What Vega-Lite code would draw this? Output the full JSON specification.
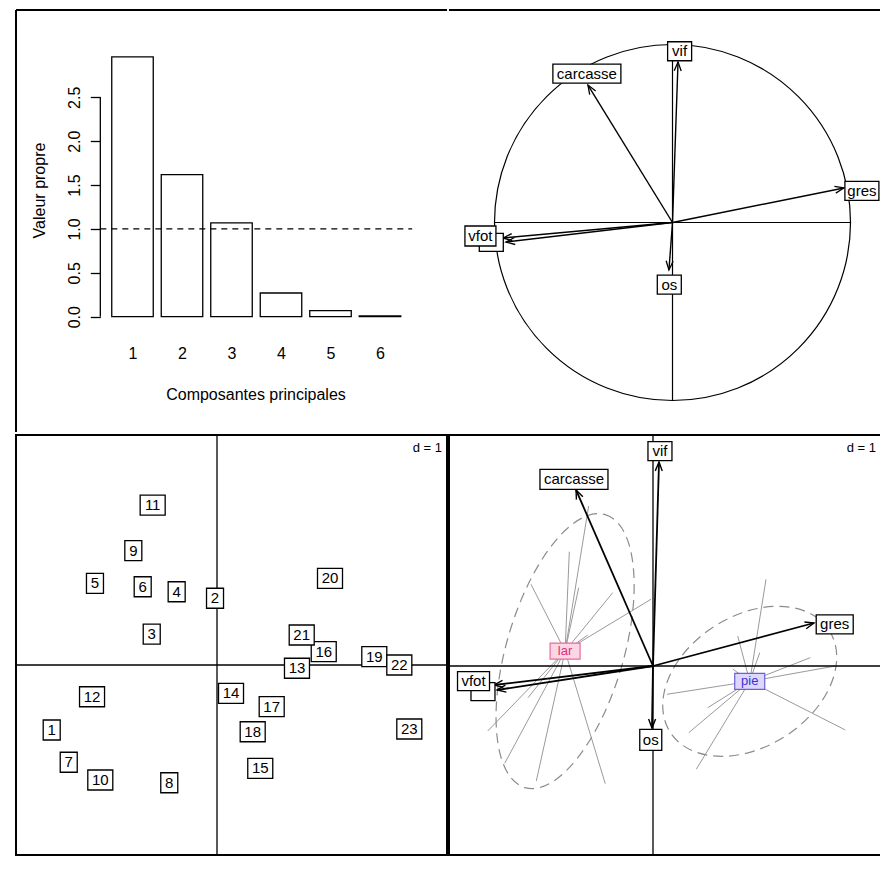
{
  "$schema": "https://vega.github.io/schema/vega-lite/v6.json",
  "background": "white",
  "padding": {"left": 14, "top": 9, "right": 0, "bottom": 0},
  "columns": 2,
  "spacing": {"row": 3, "column": 2},
  "bounds": "flush",
  "datasets": {
    "eig": [
      {"comp": 1, "valeur": 2.96},
      {"comp": 2, "valeur": 1.62},
      {"comp": 3, "valeur": 1.07},
      {"comp": 4, "valeur": 0.27},
      {"comp": 5, "valeur": 0.07},
      {"comp": 6, "valeur": 0.01}
    ],
    "vars": [
      {"var": "carcasse", "r1": -0.475, "r2": 0.772, "lx": -0.481, "ly": 0.836, "c1": -0.895, "c2": 2.047, "bx": -0.919, "by": 2.171},
      {"var": "vif", "r1": 0.031, "r2": 0.902, "lx": 0.040, "ly": 0.962, "c1": 0.070, "c2": 2.372, "bx": 0.081, "by": 2.498},
      {"var": "gres", "r1": 0.963, "r2": 0.194, "lx": 1.064, "ly": 0.178, "c1": 1.872, "c2": 0.500, "bx": 2.113, "by": 0.483},
      {"var": "vfoie", "r1": -0.936, "r2": -0.110, "lx": -1.018, "ly": -0.112, "c1": -1.814, "c2": -0.279, "bx": -1.977, "by": -0.297},
      {"var": "vfot", "r1": -0.952, "r2": -0.087, "lx": -1.079, "ly": -0.076, "c1": -1.849, "c2": -0.221, "bx": -2.087, "by": -0.177},
      {"var": "os", "r1": -0.020, "r2": -0.267, "lx": -0.018, "ly": -0.349, "c1": -0.012, "c2": -0.721, "bx": -0.026, "by": -0.860}
    ],
    "ind": [
      {"id": "1", "classe": "lar", "f1": -1.922, "f2": -0.756},
      {"id": "2", "classe": "lar", "f1": -0.023, "f2": 0.776},
      {"id": "3", "classe": "lar", "f1": -0.759, "f2": 0.360},
      {"id": "4", "classe": "lar", "f1": -0.469, "f2": 0.852},
      {"id": "5", "classe": "lar", "f1": -1.419, "f2": 0.950},
      {"id": "6", "classe": "lar", "f1": -0.864, "f2": 0.910},
      {"id": "7", "classe": "lar", "f1": -1.724, "f2": -1.131},
      {"id": "8", "classe": "lar", "f1": -0.555, "f2": -1.369},
      {"id": "9", "classe": "lar", "f1": -0.973, "f2": 1.329},
      {"id": "10", "classe": "lar", "f1": -1.357, "f2": -1.337},
      {"id": "11", "classe": "lar", "f1": -0.748, "f2": 1.860},
      {"id": "12", "classe": "lar", "f1": -1.453, "f2": -0.369},
      {"id": "13", "classe": "pie", "f1": 0.930, "f2": -0.038},
      {"id": "14", "classe": "pie", "f1": 0.163, "f2": -0.329},
      {"id": "15", "classe": "pie", "f1": 0.503, "f2": -1.201},
      {"id": "16", "classe": "pie", "f1": 1.241, "f2": 0.155},
      {"id": "17", "classe": "pie", "f1": 0.636, "f2": -0.485},
      {"id": "18", "classe": "pie", "f1": 0.415, "f2": -0.776},
      {"id": "19", "classe": "pie", "f1": 1.829, "f2": 0.097},
      {"id": "20", "classe": "pie", "f1": 1.314, "f2": 1.008},
      {"id": "21", "classe": "pie", "f1": 0.985, "f2": 0.349},
      {"id": "22", "classe": "pie", "f1": 2.120, "f2": 0.000},
      {"id": "23", "classe": "pie", "f1": 2.236, "f2": -0.744}
    ]
  },
  "concat": [
    {
      "width": 431,
      "height": 422,
      "view": {"stroke": null},
      "layer": [
        {
          "data": {"name": "eig"},
          "mark": {"type": "bar", "width": 41.5, "fill": "white", "stroke": "black", "strokeWidth": 1.3},
          "encoding": {
            "x": {
              "field": "comp", "type": "quantitative",
              "scale": {"domain": [-1.3535, 7.3535], "nice": false, "zero": false, "padding": 0},
              "axis": {
                "orient": "bottom", "values": [1, 2, 3, 4, 5, 6], "format": "d",
                "offset": -115.3, "domain": false, "ticks": false, "tickSize": 0, "grid": false,
                "labelPadding": 28.4, "labelFontSize": 16, "labelColor": "black", "labelFont": "Liberation Sans",
                "labelFlush": false, "labelOverlap": false,
                "title": "Composantes principales", "titleFont": "Liberation Sans", "titleFontSize": 16,
                "titleFontWeight": "normal", "titleColor": "black",
                "titleX": 239.5, "titleY": 69.8, "titleAlign": "center", "titleBaseline": "top"
              }
            },
            "y": {
              "field": "valeur", "type": "quantitative",
              "scale": {"domain": [-1.3138, 3.4948], "nice": false, "zero": false},
              "axis": {
                "orient": "left", "values": [0, 0.5, 1, 1.5, 2, 2.5], "format": ".1f",
                "offset": -84.3, "domain": false, "grid": false,
                "ticks": true, "tickSize": 10, "tickColor": "black", "tickWidth": 1.3,
                "labelAngle": 270, "labelAlign": "center", "labelBaseline": "bottom", "labelPadding": 8,
                "labelFontSize": 16, "labelColor": "black", "labelFont": "Liberation Sans",
                "labelFlush": false, "labelOverlap": false,
                "title": "Valeur propre", "titleFont": "Liberation Sans", "titleFontSize": 16,
                "titleFontWeight": "normal", "titleColor": "black", "titleAngle": 270,
                "titleX": -61.3, "titleY": 180, "titleAlign": "center", "titleBaseline": "middle"
              }
            },
            "y2": {"datum": 0}
          }
        },
        {
          "data": {"values": [{}]},
          "mark": {"type": "rule", "color": "black", "strokeWidth": 1.3, "strokeDash": [6, 5]},
          "encoding": {"x": {"datum": 0.35}, "x2": {"datum": 6.65}, "y": {"datum": 1}}
        },
        {
          "data": {"values": [{}]},
          "mark": {"type": "rule", "color": "black", "strokeWidth": 1.3},
          "encoding": {"x": {"datum": 0.35}, "y": {"datum": 0}, "y2": {"datum": 2.5}}
        },
        {
          "data": {"values": [{}]},
          "mark": {"type": "rule", "color": "black", "strokeWidth": 2},
          "encoding": {"y": {"datum": 3.4948}}
        },
        {
          "data": {"values": [{}]},
          "mark": {"type": "rule", "color": "black", "strokeWidth": 2},
          "encoding": {"x": {"datum": -1.3535}}
        }
      ]
    },
    {
      "width": 432,
      "height": 422,
      "view": {"stroke": null},
      "layer": [
        {
          "data": {"values": [{}]},
          "mark": {"type": "rule", "color": "black", "strokeWidth": 2},
          "encoding": {"y": {"datum": 1.1938, "axis": null}}
        },
        {
          "data": {"values": [{}]},
          "mark": {"type": "point", "shape": "circle", "size": 126736, "filled": false, "stroke": "black", "strokeWidth": 1.2, "opacity": 1},
          "encoding": {"x": {"datum": 0, "axis": null}, "y": {"datum": 0, "axis": null}}
        },
        {
          "data": {"values": [{}]},
          "mark": {"type": "rule", "color": "black", "strokeWidth": 1.2},
          "encoding": {"x": {"datum": -1, "axis": null}, "x2": {"datum": 1}, "y": {"datum": 0, "axis": null}}
        },
        {
          "data": {"values": [{}]},
          "mark": {"type": "rule", "color": "black", "strokeWidth": 1.2},
          "encoding": {"x": {"datum": 0, "axis": null}, "y": {"datum": -1, "axis": null}, "y2": {"datum": 1}}
        },
        {
          "data": {"name": "vars"},
          "mark": {"type": "rule", "color": "black", "strokeWidth": 1.4},
          "encoding": {
            "x": {"field": "r1", "type": "quantitative", "axis": null, "scale": {"domain": [-1.2556, 1.1713], "nice": false, "zero": false}},
            "y": {"field": "r2", "type": "quantitative", "axis": null, "scale": {"domain": [-1.1770, 1.1938], "nice": false, "zero": false}},
            "x2": {"datum": 0},
            "y2": {"datum": 0}
          }
        },
        {
          "data": {"name": "vars"},
          "mark": {"type": "point", "shape": "M-3.5,9L0,0L3.5,9", "size": 4, "filled": false, "stroke": "black", "strokeWidth": 1.3, "opacity": 1,
                   "angle": {"expr": "atan2(datum.r1, datum.r2) * 180 / PI"}},
          "encoding": {
            "x": {"field": "r1", "type": "quantitative", "axis": null},
            "y": {"field": "r2", "type": "quantitative", "axis": null}
          }
        },
        {
          "data": {"name": "vars"},
          "mark": {"type": "point", "size": 4, "filled": true, "fill": "white", "stroke": "black", "strokeWidth": 1.3, "opacity": 1},
          "encoding": {
            "x": {"field": "lx", "type": "quantitative", "axis": null},
            "y": {"field": "ly", "type": "quantitative", "axis": null},
            "shape": {
              "field": "var", "type": "nominal", "legend": null,
              "scale": {
                "domain": ["carcasse", "vif", "gres", "vfoie", "vfot", "os"],
                "range": ["M-34,-9.5H34V9.5H-34Z", "M-12,-9.5H12V9.5H-12Z", "M-17,-9.5H17V9.5H-17Z", "M-12,-9H12V9H-12Z", "M-15.5,-10H15.5V10H-15.5Z", "M-12,-9.5H12V9.5H-12Z"]
              }
            }
          }
        },
        {
          "data": {"name": "vars"},
          "transform": [{"filter": "datum.var !== 'vfoie'"}],
          "mark": {"type": "text", "font": "Liberation Sans", "fontSize": 15, "color": "black", "align": "center", "baseline": "middle"},
          "encoding": {
            "x": {"field": "lx", "type": "quantitative", "axis": null},
            "y": {"field": "ly", "type": "quantitative", "axis": null},
            "text": {"field": "var"}
          }
        }
      ]
    },
    {
      "width": 431,
      "height": 420,
      "layer": [
        {
          "data": {"values": [{}]},
          "mark": {"type": "rule", "color": "black", "strokeWidth": 1.3},
          "encoding": {"y": {"datum": 0, "axis": null}}
        },
        {
          "data": {"values": [{}]},
          "mark": {"type": "rule", "color": "black", "strokeWidth": 1.3},
          "encoding": {"x": {"datum": 0, "axis": null}}
        },
        {
          "data": {"name": "ind"},
          "mark": {"type": "point", "size": 4, "filled": true, "fill": "white", "stroke": "black", "strokeWidth": 1.3, "opacity": 1},
          "encoding": {
            "x": {"field": "f1", "type": "quantitative", "axis": null, "scale": {"domain": [-2.3372, 2.6744], "nice": false, "zero": false}},
            "y": {"field": "f2", "type": "quantitative", "axis": null, "scale": {"domain": [-2.2093, 2.6744], "nice": false, "zero": false}},
            "shape": {"condition": {"test": "length(datum.id) > 1", "value": "M-12.5,-10H12.5V10H-12.5Z"}, "value": "M-8.5,-10H8.5V10H-8.5Z"}
          }
        },
        {
          "data": {"name": "ind"},
          "mark": {"type": "text", "font": "Liberation Sans", "fontSize": 15, "color": "black", "align": "center", "baseline": "middle"},
          "encoding": {
            "x": {"field": "f1", "type": "quantitative", "axis": null},
            "y": {"field": "f2", "type": "quantitative", "axis": null},
            "text": {"field": "id"}
          }
        },
        {
          "data": {"values": [{}]},
          "mark": {"type": "text", "font": "Liberation Sans", "fontSize": 13, "color": "black", "align": "right", "baseline": "top", "dx": -5, "dy": 7},
          "encoding": {"x": {"datum": 2.6744, "axis": null}, "y": {"datum": 2.6744, "axis": null}, "text": {"value": "d = 1"}}
        }
      ]
    },
    {
      "width": 432,
      "height": 420,
      "resolve": {"scale": {"shape": "independent"}},
      "layer": [
        {
          "data": {"name": "ind"},
          "transform": [{"joinaggregate": [{"op": "mean", "field": "f1", "as": "m1"}, {"op": "mean", "field": "f2", "as": "m2"}], "groupby": ["classe"]}],
          "mark": {"type": "rule", "color": "#9a9a9a", "strokeWidth": 1},
          "encoding": {
            "x": {"field": "f1", "type": "quantitative", "axis": null, "scale": {"domain": [-2.3721, 2.6512], "nice": false, "zero": false}},
            "y": {"field": "f2", "type": "quantitative", "axis": null, "scale": {"domain": [-2.1977, 2.6860], "nice": false, "zero": false}},
            "x2": {"field": "m1"},
            "y2": {"field": "m2"}
          }
        },
        {
          "data": {"name": "ind"},
          "transform": [{"aggregate": [{"op": "mean", "field": "f1", "as": "m1"}, {"op": "mean", "field": "f2", "as": "m2"}], "groupby": ["classe"]}],
          "mark": {"type": "point", "size": 4, "filled": false, "stroke": "#8c8c8c", "strokeWidth": 1.2, "strokeDash": [10, 6], "opacity": 1},
          "encoding": {
            "x": {"field": "m1", "type": "quantitative", "axis": null},
            "y": {"field": "m2", "type": "quantitative", "axis": null},
            "shape": {
              "field": "classe", "type": "nominal", "legend": null,
              "scale": {
                "domain": ["lar", "pie"],
                "range": [
                  "M40.13,-136.47C71.17,-127.34,78.36,-58.84,56.2,16.53C34.04,91.9,-9.09,145.6,-40.13,136.47C-71.17,127.34,-78.36,58.84,-56.2,-16.53C-34.04,-91.9,9.09,-145.6,40.13,-136.47Z",
                  "M79.53,-50.86C98.99,-20.43,79.16,27.01,35.24,55.1C-8.68,83.19,-60.07,81.29,-79.53,50.86C-98.99,20.43,-79.16,-27.01,-35.24,-55.1C8.68,-83.19,60.07,-81.29,79.53,-50.86Z"
                ]
              }
            }
          }
        },
        {
          "data": {"values": [{}]},
          "mark": {"type": "rule", "color": "black", "strokeWidth": 1.3},
          "encoding": {"y": {"datum": 0, "axis": null}}
        },
        {
          "data": {"values": [{}]},
          "mark": {"type": "rule", "color": "black", "strokeWidth": 1.3},
          "encoding": {"x": {"datum": 0, "axis": null}}
        },
        {
          "data": {"name": "ind"},
          "transform": [{"aggregate": [{"op": "mean", "field": "f1", "as": "m1"}, {"op": "mean", "field": "f2", "as": "m2"}], "groupby": ["classe"]}],
          "mark": {"type": "point", "size": 4, "filled": true, "shape": "M-15,-8H15V8H-15Z", "strokeWidth": 1.2, "opacity": 1},
          "encoding": {
            "x": {"field": "m1", "type": "quantitative", "axis": null},
            "y": {"field": "m2", "type": "quantitative", "axis": null},
            "fill": {"field": "classe", "type": "nominal", "legend": null, "scale": {"domain": ["lar", "pie"], "range": ["#fbd6e4", "#dcd7fb"]}},
            "stroke": {"field": "classe", "type": "nominal", "legend": null, "scale": {"domain": ["lar", "pie"], "range": ["#e86a9c", "#6c60d8"]}}
          }
        },
        {
          "data": {"name": "ind"},
          "transform": [{"aggregate": [{"op": "mean", "field": "f1", "as": "m1"}, {"op": "mean", "field": "f2", "as": "m2"}], "groupby": ["classe"]}],
          "mark": {"type": "text", "font": "Liberation Sans", "fontSize": 13, "align": "center", "baseline": "middle"},
          "encoding": {
            "x": {"field": "m1", "type": "quantitative", "axis": null},
            "y": {"field": "m2", "type": "quantitative", "axis": null},
            "text": {"field": "classe"},
            "color": {"field": "classe", "type": "nominal", "legend": null, "scale": {"domain": ["lar", "pie"], "range": ["#e0307a", "#3f31d0"]}}
          }
        },
        {
          "data": {"name": "vars"},
          "mark": {"type": "rule", "color": "black", "strokeWidth": 1.8},
          "encoding": {
            "x": {"field": "c1", "type": "quantitative", "axis": null},
            "y": {"field": "c2", "type": "quantitative", "axis": null},
            "x2": {"datum": 0},
            "y2": {"datum": 0}
          }
        },
        {
          "data": {"name": "vars"},
          "mark": {"type": "point", "shape": "M-3.5,9L0,0L3.5,9", "size": 4, "filled": false, "stroke": "black", "strokeWidth": 1.4, "opacity": 1,
                   "angle": {"expr": "atan2(datum.c1, datum.c2) * 180 / PI"}},
          "encoding": {
            "x": {"field": "c1", "type": "quantitative", "axis": null},
            "y": {"field": "c2", "type": "quantitative", "axis": null}
          }
        },
        {
          "data": {"name": "vars"},
          "mark": {"type": "point", "size": 4, "filled": true, "fill": "white", "stroke": "black", "strokeWidth": 1.3, "opacity": 1},
          "encoding": {
            "x": {"field": "bx", "type": "quantitative", "axis": null},
            "y": {"field": "by", "type": "quantitative", "axis": null},
            "shape": {
              "field": "var", "type": "nominal", "legend": null,
              "scale": {
                "domain": ["carcasse", "vif", "gres", "vfoie", "vfot", "os"],
                "range": ["M-34,-10H34V10H-34Z", "M-12,-9.5H12V9.5H-12Z", "M-18.5,-9.5H18.5V9.5H-18.5Z", "M-12,-9H12V9H-12Z", "M-16,-9.5H16V9.5H-16Z", "M-11,-10.5H11V10.5H-11Z"]
              }
            }
          }
        },
        {
          "data": {"name": "vars"},
          "transform": [{"filter": "datum.var !== 'vfoie'"}],
          "mark": {"type": "text", "font": "Liberation Sans", "fontSize": 15, "color": "black", "align": "center", "baseline": "middle"},
          "encoding": {
            "x": {"field": "bx", "type": "quantitative", "axis": null},
            "y": {"field": "by", "type": "quantitative", "axis": null},
            "text": {"field": "var"}
          }
        },
        {
          "data": {"values": [{}]},
          "mark": {"type": "text", "font": "Liberation Sans", "fontSize": 13, "color": "black", "align": "right", "baseline": "top", "dx": -5, "dy": 7},
          "encoding": {"x": {"datum": 2.6512, "axis": null}, "y": {"datum": 2.6860, "axis": null}, "text": {"value": "d = 1"}}
        }
      ]
    }
  ],
  "config": {
    "view": {"stroke": "black", "strokeWidth": 2},
    "font": "Liberation Sans"
  }
}
